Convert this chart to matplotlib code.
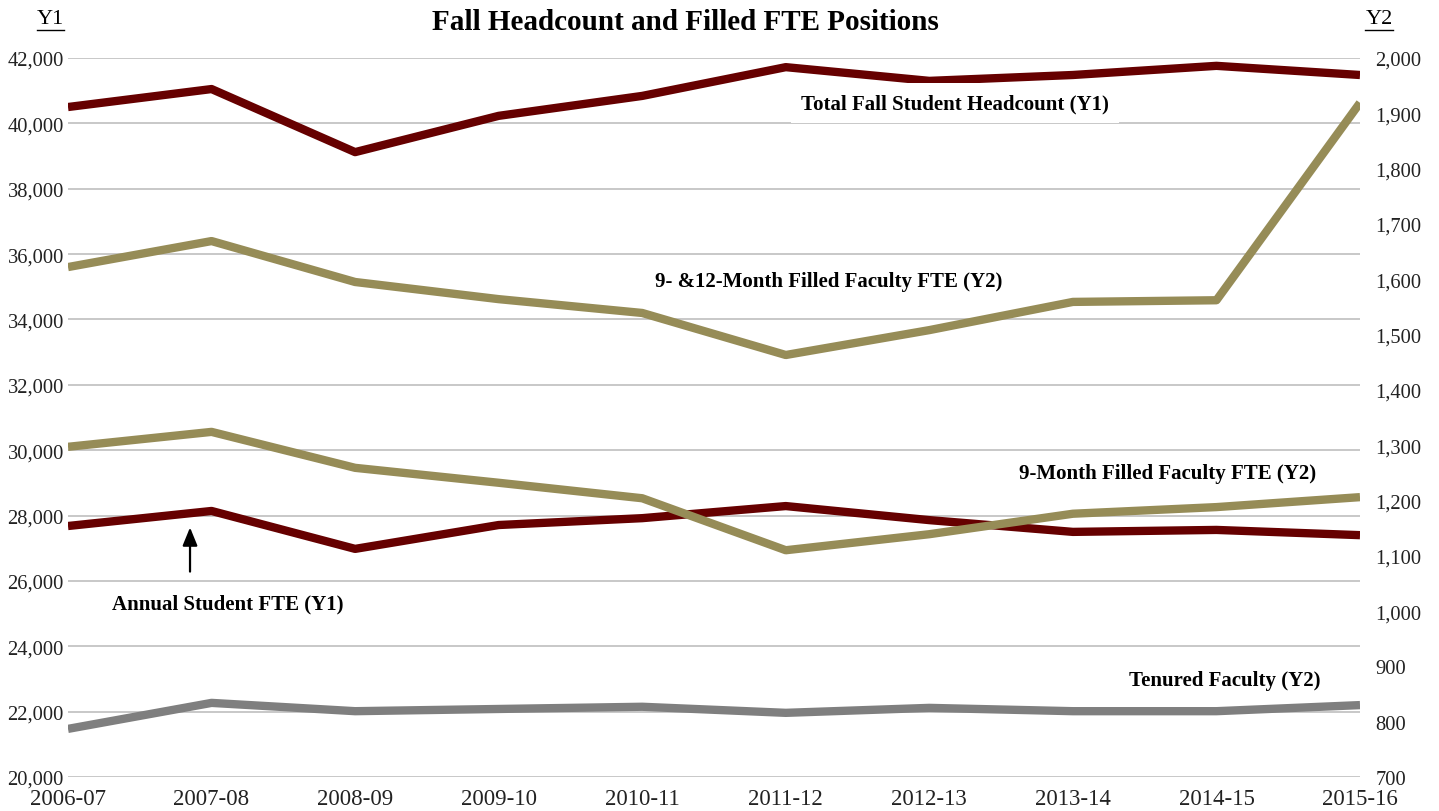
import matplotlib.pyplot as plt
from matplotlib.lines import Line2D
from matplotlib.ticker import FuncFormatter

plt.rcParams["font.family"] = ["Liberation Serif", "DejaVu Serif"]

# ===== DATA =====
years = ["2006-07", "2007-08", "2008-09", "2009-10", "2010-11",
         "2011-12", "2012-13", "2013-14", "2014-15", "2015-16"]

headcount = [40500, 41050, 39120, 40230, 40840, 41720, 41300, 41480, 41760, 41480]
student_fte = [27680, 28140, 26980, 27710, 27920, 28290, 27860, 27500, 27560, 27400]
faculty_9_12 = [1622, 1669, 1595, 1564, 1539, 1463, 1508, 1559, 1562, 1919]
faculty_9 = [1297, 1324, 1259, 1232, 1204, 1110, 1139, 1176, 1188, 1206]
tenured = [787, 834, 819, 823, 827, 816, 825, 819, 819, 830]

maroon = "#660000"
olive = "#968c57"
gray = "#7f7f7f"

# ===== FIGURE =====
fig = plt.figure(figsize=(14.39, 8.12), dpi=100)
ax1 = fig.add_axes([68 / 1439, 1 - 778 / 812, (1360 - 68) / 1439, (778 - 59) / 812])
ax2 = ax1.twinx()

x = range(len(years))
ax1.plot(x, headcount, color=maroon, lw=6, solid_capstyle="butt", zorder=3)
ax1.plot(x, student_fte, color=maroon, lw=6, solid_capstyle="butt", zorder=3)
ax2.plot(x, faculty_9_12, color=olive, lw=6, solid_capstyle="butt", zorder=3)
ax2.plot(x, faculty_9, color=olive, lw=6, solid_capstyle="butt", zorder=3)
ax2.plot(x, tenured, color=gray, lw=6, solid_capstyle="butt", zorder=3)

ax1.set_xlim(0, len(years) - 1)
ax1.set_ylim(20000, 42000)
ax1.set_yticks(range(20000, 42001, 2000))
ax2.set_ylim(700, 2000)
ax2.set_yticks(range(700, 2001, 100))
ax1.set_xticks(list(x))
ax1.set_xticklabels(years)

fmt = FuncFormatter(lambda v, p: f"{int(v):,}")
ax1.yaxis.set_major_formatter(fmt)
ax2.yaxis.set_major_formatter(fmt)

ax1.grid(axis="y", color="#c4c4c4", lw=1.3)
ax1.set_axisbelow(True)
for ax in (ax1, ax2):
    for s in ax.spines.values():
        s.set_visible(False)
    ax.tick_params(length=0, labelsize=14.8, colors="#222222")
ax1.tick_params(axis="y", pad=3)
ax2.tick_params(axis="y", pad=11)
ax1.tick_params(axis="x", labelsize=16.5, pad=8)

# ===== LABELS =====
box = dict(facecolor="white", edgecolor="none", pad=7)
labels = [
    ("Total Fall Student Headcount (Y1)", 6.18, 40620),
    ("9- &12-Month Filled Faculty FTE (Y2)", 5.30, 35180),
    ("9-Month Filled Faculty FTE (Y2)", 7.66, 29300),
    ("Annual Student FTE (Y1)", 1.11, 25320),
    ("Tenured Faculty (Y2)", 8.06, 22970),
]
for txt, lx, ly in labels:
    ax2.text(lx, ly, txt, transform=ax1.transData, ha="center", va="center",
             fontsize=15, fontweight="bold", bbox=box, zorder=5)

ax2.annotate("", xy=(0.85, 27720), xytext=(0.85, 26200),
             xycoords=ax1.transData, textcoords=ax1.transData,
             arrowprops=dict(arrowstyle="-|>,head_length=1.1,head_width=0.45",
                             color="black", lw=1.6), zorder=6)

fig.text(685 / 1439, 1 - 22 / 812, "Fall Headcount and Filled FTE Positions",
         ha="center", va="center", fontsize=21, fontweight="bold")

fig.text(50 / 1439, 1 - 20 / 812, "Y1", ha="center", va="center", fontsize=16)
fig.text(1379 / 1439, 1 - 20 / 812, "Y2", ha="center", va="center", fontsize=16)
fig.add_artist(Line2D([37 / 1439, 64 / 1439], [1 - 31 / 812, 1 - 31 / 812],
                      color="black", lw=1))
fig.add_artist(Line2D([1365 / 1439, 1393 / 1439], [1 - 31 / 812, 1 - 31 / 812],
                      color="black", lw=1))

fig.savefig("out.png", dpi=100)
